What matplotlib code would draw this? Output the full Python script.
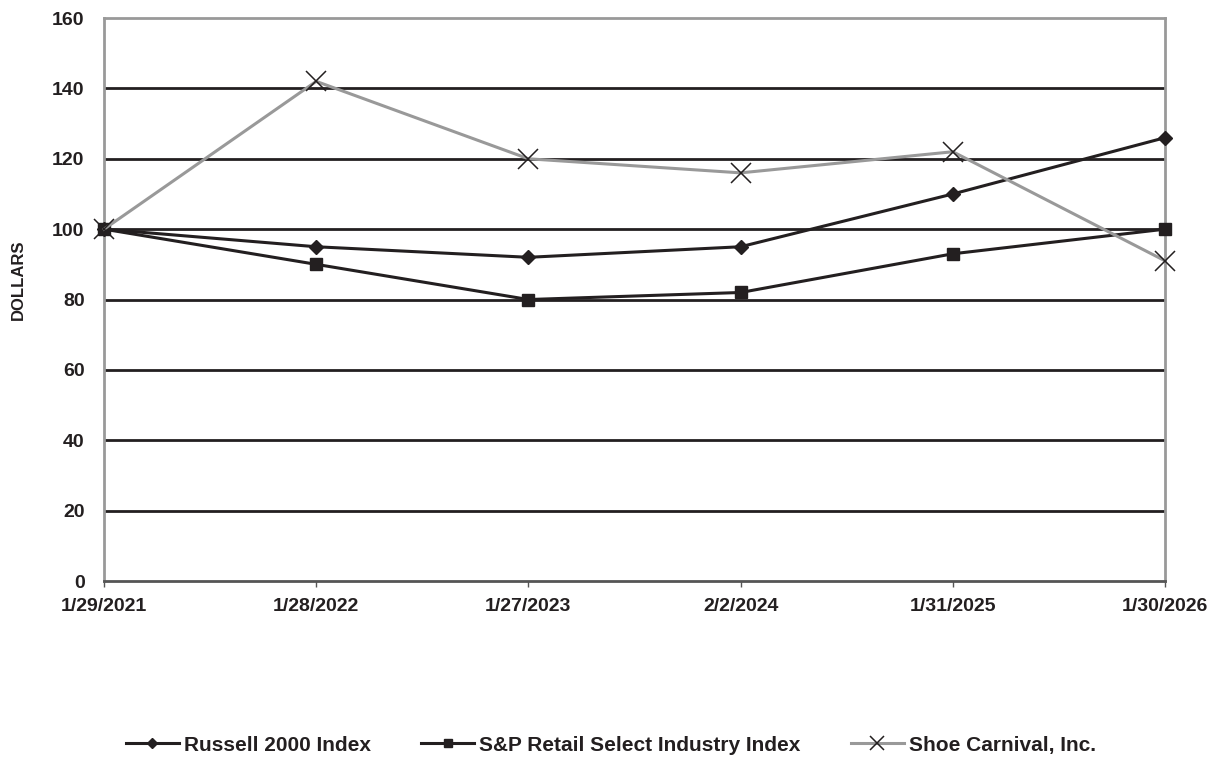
from matplotlib import pyplot as plt
import numpy as np

plt.rcParams['font.family'] = ['Liberation Sans', 'DejaVu Sans']
plt.rcParams['font.weight'] = 'bold'

dates = ['1/29/2021', '1/28/2022', '1/27/2023', '2/2/2024', '1/31/2025', '1/30/2026']
russell = [100, 95, 92, 95, 110, 126]
sp_retail = [100, 90, 80, 82, 93, 100]
shoe = [100, 142, 120, 116, 122, 91]

x = np.arange(len(dates))

fig = plt.figure(figsize=(12.22, 7.61), dpi=100)
ax = fig.add_axes([0.0851, 0.2365, 0.8683, 0.7398])

ax.plot(x, russell, color='#231f20', lw=2.2, marker='D', ms=7.5, label='Russell 2000 Index',
        zorder=4, clip_on=False)
ax.plot(x, sp_retail, color='#231f20', lw=2.2, marker='s', ms=8.5, label='S&P Retail Select Industry Index',
        zorder=4, clip_on=False)
ax.plot(x, shoe, color='#999999', lw=2.2, marker='x', ms=14, mec='#231f20', mew=1.1,
        label='Shoe Carnival, Inc.', zorder=5, clip_on=False)

ax.set_xlim(0, len(dates) - 1)
ax.set_ylim(0, 160)
ax.set_yticks(np.arange(0, 161, 20))
ax.set_xticks(x)
ax.set_xticklabels(dates)
for yv in range(20, 160, 20):
    ax.axhline(yv, color='#231f20', lw=2, zorder=1)

for s in ['left', 'top', 'right']:
    ax.spines[s].set_color('#999999')
    ax.spines[s].set_linewidth(2)
ax.spines['bottom'].set_color('#555555')
ax.spines['bottom'].set_linewidth(2)

ax.tick_params(axis='y', length=0, pad=14, labelsize=14)
ax.tick_params(axis='x', length=4, width=1, color='#555555', pad=8, labelsize=14)
for lbl in ax.get_xticklabels() + ax.get_yticklabels():
    lbl.set_fontweight('bold')
    lbl.set_color('#231f20')

ax.set_ylabel('DOLLARS', fontsize=12, fontweight='bold', color='#231f20')
ax.yaxis.set_label_coords(-0.0735, 0.535)

leg = fig.legend(loc='center', bbox_to_anchor=(0.5, 0.021), ncol=3, frameon=False,
                 prop={'weight': 'bold', 'size': 15}, handlelength=2.55,
                 columnspacing=2.4, handletextpad=0.25)
for line in leg.get_lines():
    line.set_markersize(line.get_markersize() * 0.7)
for t in leg.get_texts():
    t.set_color('#231f20')

fig.savefig('out.png', dpi=100)
